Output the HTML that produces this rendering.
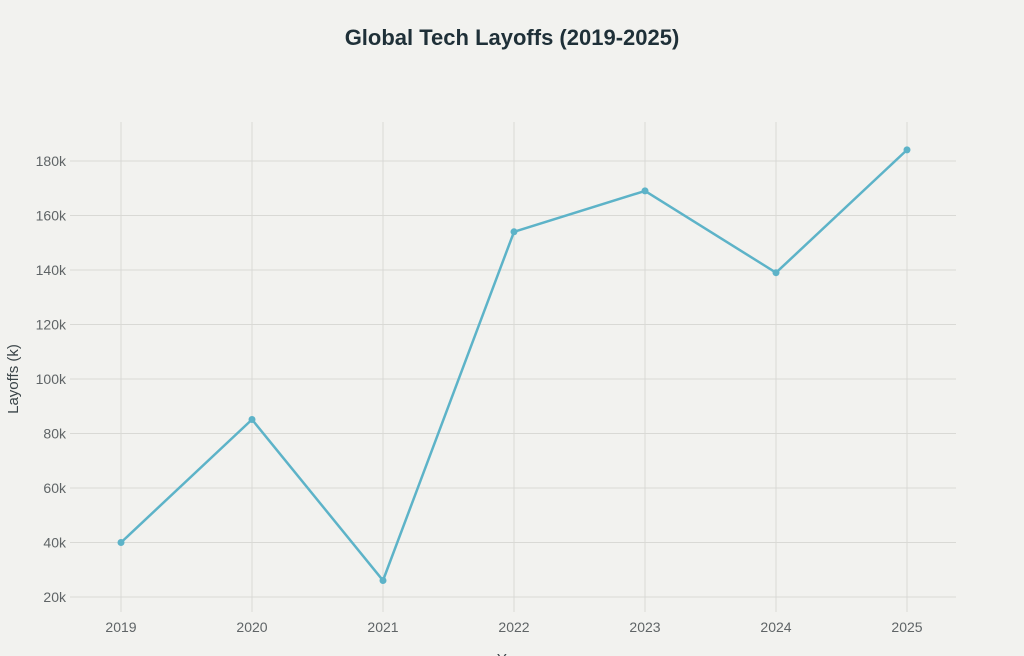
<!DOCTYPE html>
<html><head><style>
html,body{margin:0;padding:0;background:#f2f2ef;}
svg{display:block;font-family:"Liberation Sans",sans-serif;}
</style></head><body>
<svg width="1024" height="656" viewBox="0 0 1024 656" xmlns="http://www.w3.org/2000/svg">
<rect width="1024" height="656" fill="#f2f2ef"/>
<text x="512" y="45" text-anchor="middle" font-size="22" font-weight="bold" fill="#1f3038">Global Tech Layoffs (2019-2025)</text>
<g stroke="#d9d9d5" stroke-width="1">
<line x1="121" y1="122" x2="121" y2="612"/><line x1="252" y1="122" x2="252" y2="612"/>
<line x1="383" y1="122" x2="383" y2="612"/><line x1="514" y1="122" x2="514" y2="612"/>
<line x1="645" y1="122" x2="645" y2="612"/><line x1="776" y1="122" x2="776" y2="612"/>
<line x1="907" y1="122" x2="907" y2="612"/>
<line x1="70" y1="161" x2="956" y2="161"/><line x1="70" y1="215.5" x2="956" y2="215.5"/>
<line x1="70" y1="270" x2="956" y2="270"/><line x1="70" y1="324.5" x2="956" y2="324.5"/>
<line x1="70" y1="379" x2="956" y2="379"/><line x1="70" y1="433.5" x2="956" y2="433.5"/>
<line x1="70" y1="488" x2="956" y2="488"/><line x1="70" y1="542.5" x2="956" y2="542.5"/>
<line x1="70" y1="597" x2="956" y2="597"/>
</g>
<g font-size="14" fill="#5f6466" text-anchor="end">
<text x="66" y="166">180k</text><text x="66" y="220.5">160k</text><text x="66" y="275">140k</text>
<text x="66" y="329.5">120k</text><text x="66" y="384">100k</text><text x="66" y="438.5">80k</text>
<text x="66" y="493">60k</text><text x="66" y="547.5">40k</text><text x="66" y="602">20k</text>
</g>
<g font-size="14" fill="#5f6466" text-anchor="middle">
<text x="121" y="632">2019</text><text x="252" y="632">2020</text><text x="383" y="632">2021</text>
<text x="514" y="632">2022</text><text x="645" y="632">2023</text><text x="776" y="632">2024</text>
<text x="907" y="632">2025</text>
</g>
<text x="18" y="379" font-size="15" fill="#3a4448" text-anchor="middle" transform="rotate(-90 18 379)">Layoffs (k)</text>
<text x="512" y="664" font-size="15" fill="#3a4448" text-anchor="middle">Year</text>
<polyline fill="none" stroke="#5db3c8" stroke-width="2.5" stroke-linejoin="round" points="121,542.5 252,419.5 383,580.5 514,231.8 645,190.9 776,272.7 907,149.9"/>
<g fill="#5db3c8">
<circle cx="121" cy="542.5" r="3.5"/><circle cx="252" cy="419.5" r="3.5"/><circle cx="383" cy="580.5" r="3.5"/>
<circle cx="514" cy="231.8" r="3.5"/><circle cx="645" cy="190.9" r="3.5"/><circle cx="776" cy="272.7" r="3.5"/>
<circle cx="907" cy="149.9" r="3.5"/>
</g>
</svg>
</body></html>
